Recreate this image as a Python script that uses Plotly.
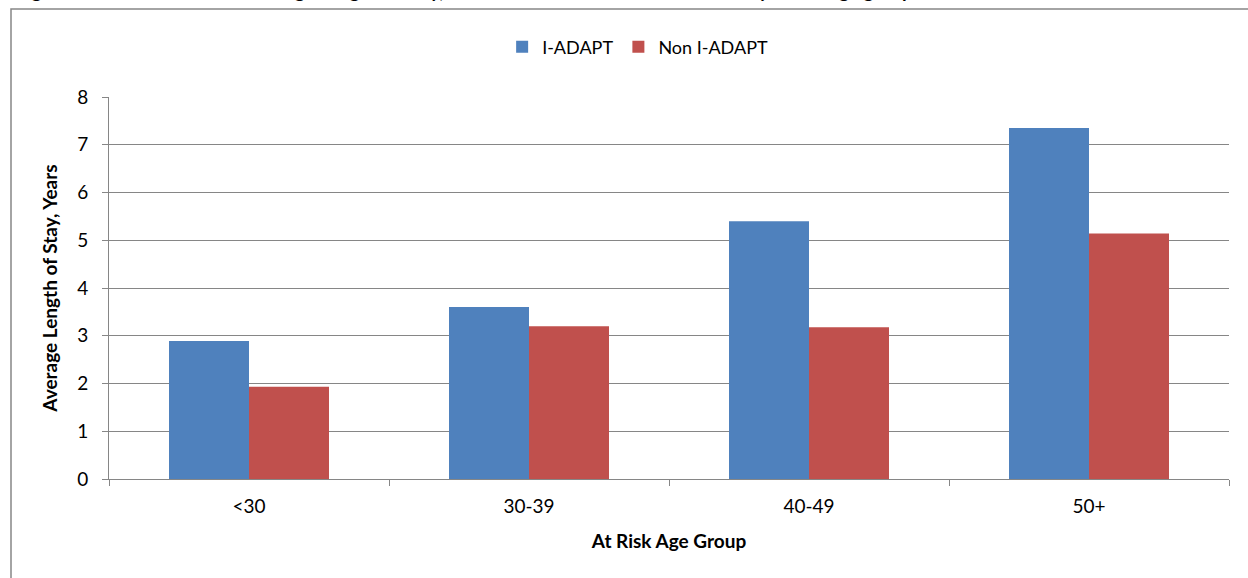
import plotly.graph_objects as go

categories = ["<30", "30-39", "40-49", "50+"]
i_adapt = [2.89, 3.60, 5.40, 7.35]
non_i_adapt = [1.93, 3.20, 3.18, 5.14]
series_names = ["I-ADAPT", "Non I-ADAPT"]
y_ticks = [0, 1, 2, 3, 4, 5, 6, 7, 8]

BLUE = "#4F81BD"
RED = "#C0504D"
GRID = "#868686"
FONT = "Lato, Calibri, Carlito, sans-serif"

fig = go.Figure()
fig.add_trace(go.Bar(x=categories, y=i_adapt, name=series_names[0],
                     marker=dict(color=BLUE, line=dict(width=0))))
fig.add_trace(go.Bar(x=categories, y=non_i_adapt, name=series_names[1],
                     marker=dict(color=RED, line=dict(width=0))))

fig.update_layout(
    width=1248, height=578,
    margin=dict(l=109, r=19, t=97, b=99),
    paper_bgcolor="white", plot_bgcolor="white",
    barmode="group", bargap=0.4286, bargroupgap=0,
    font=dict(family=FONT, size=19, color="#000000"),
    showlegend=True,
    legend=dict(orientation="h", x=0.472, xanchor="center", y=1.131, yanchor="middle",
                font=dict(size=18), itemwidth=30, traceorder="normal",
                bgcolor="rgba(0,0,0,0)"),
    xaxis=dict(
        showline=True, linecolor=GRID, linewidth=1,
        ticks="outside", tickson="boundaries", ticklen=6, tickcolor=GRID,
        showgrid=False, ticklabelstandoff=10,
        title=dict(text="<b>At Risk Age Group</b>", font=dict(size=19), standoff=18),
    ),
    yaxis=dict(
        range=[0, 8], tickvals=y_ticks, ticktext=[str(v) for v in y_ticks],
        showline=True, linecolor=GRID, linewidth=1,
        ticks="outside", ticklen=6, tickcolor=GRID,
        showgrid=True, gridcolor=GRID, gridwidth=1, zeroline=False,
        ticklabelstandoff=10,
        title=dict(text="<b>Average Length of Stay, Years</b>", font=dict(size=19), standoff=14),
    ),
    shapes=[
        dict(type="rect", xref="paper", yref="paper",
             x0=-0.0875, x1=1.2, y0=-0.5, y1=1.2304,
             line=dict(color=GRID, width=1.5), fillcolor="rgba(0,0,0,0)", layer="below"),
    ],
    annotations=[
        dict(text="<b>Figure 9: I-ADAPT Inmates Average Length of Stay, I-ADAPT vs. Non I-ADAPT Inmates by at risk age group</b>",
             xref="paper", yref="paper", x=-0.085, y=1.2435, xanchor="left", yanchor="bottom",
             showarrow=False, font=dict(size=19, family=FONT)),
    ],
)

fig.write_html("out.html", config={"displayModeBar": False},
               post_script="document.body.style.margin='0';document.body.style.padding='0';")
